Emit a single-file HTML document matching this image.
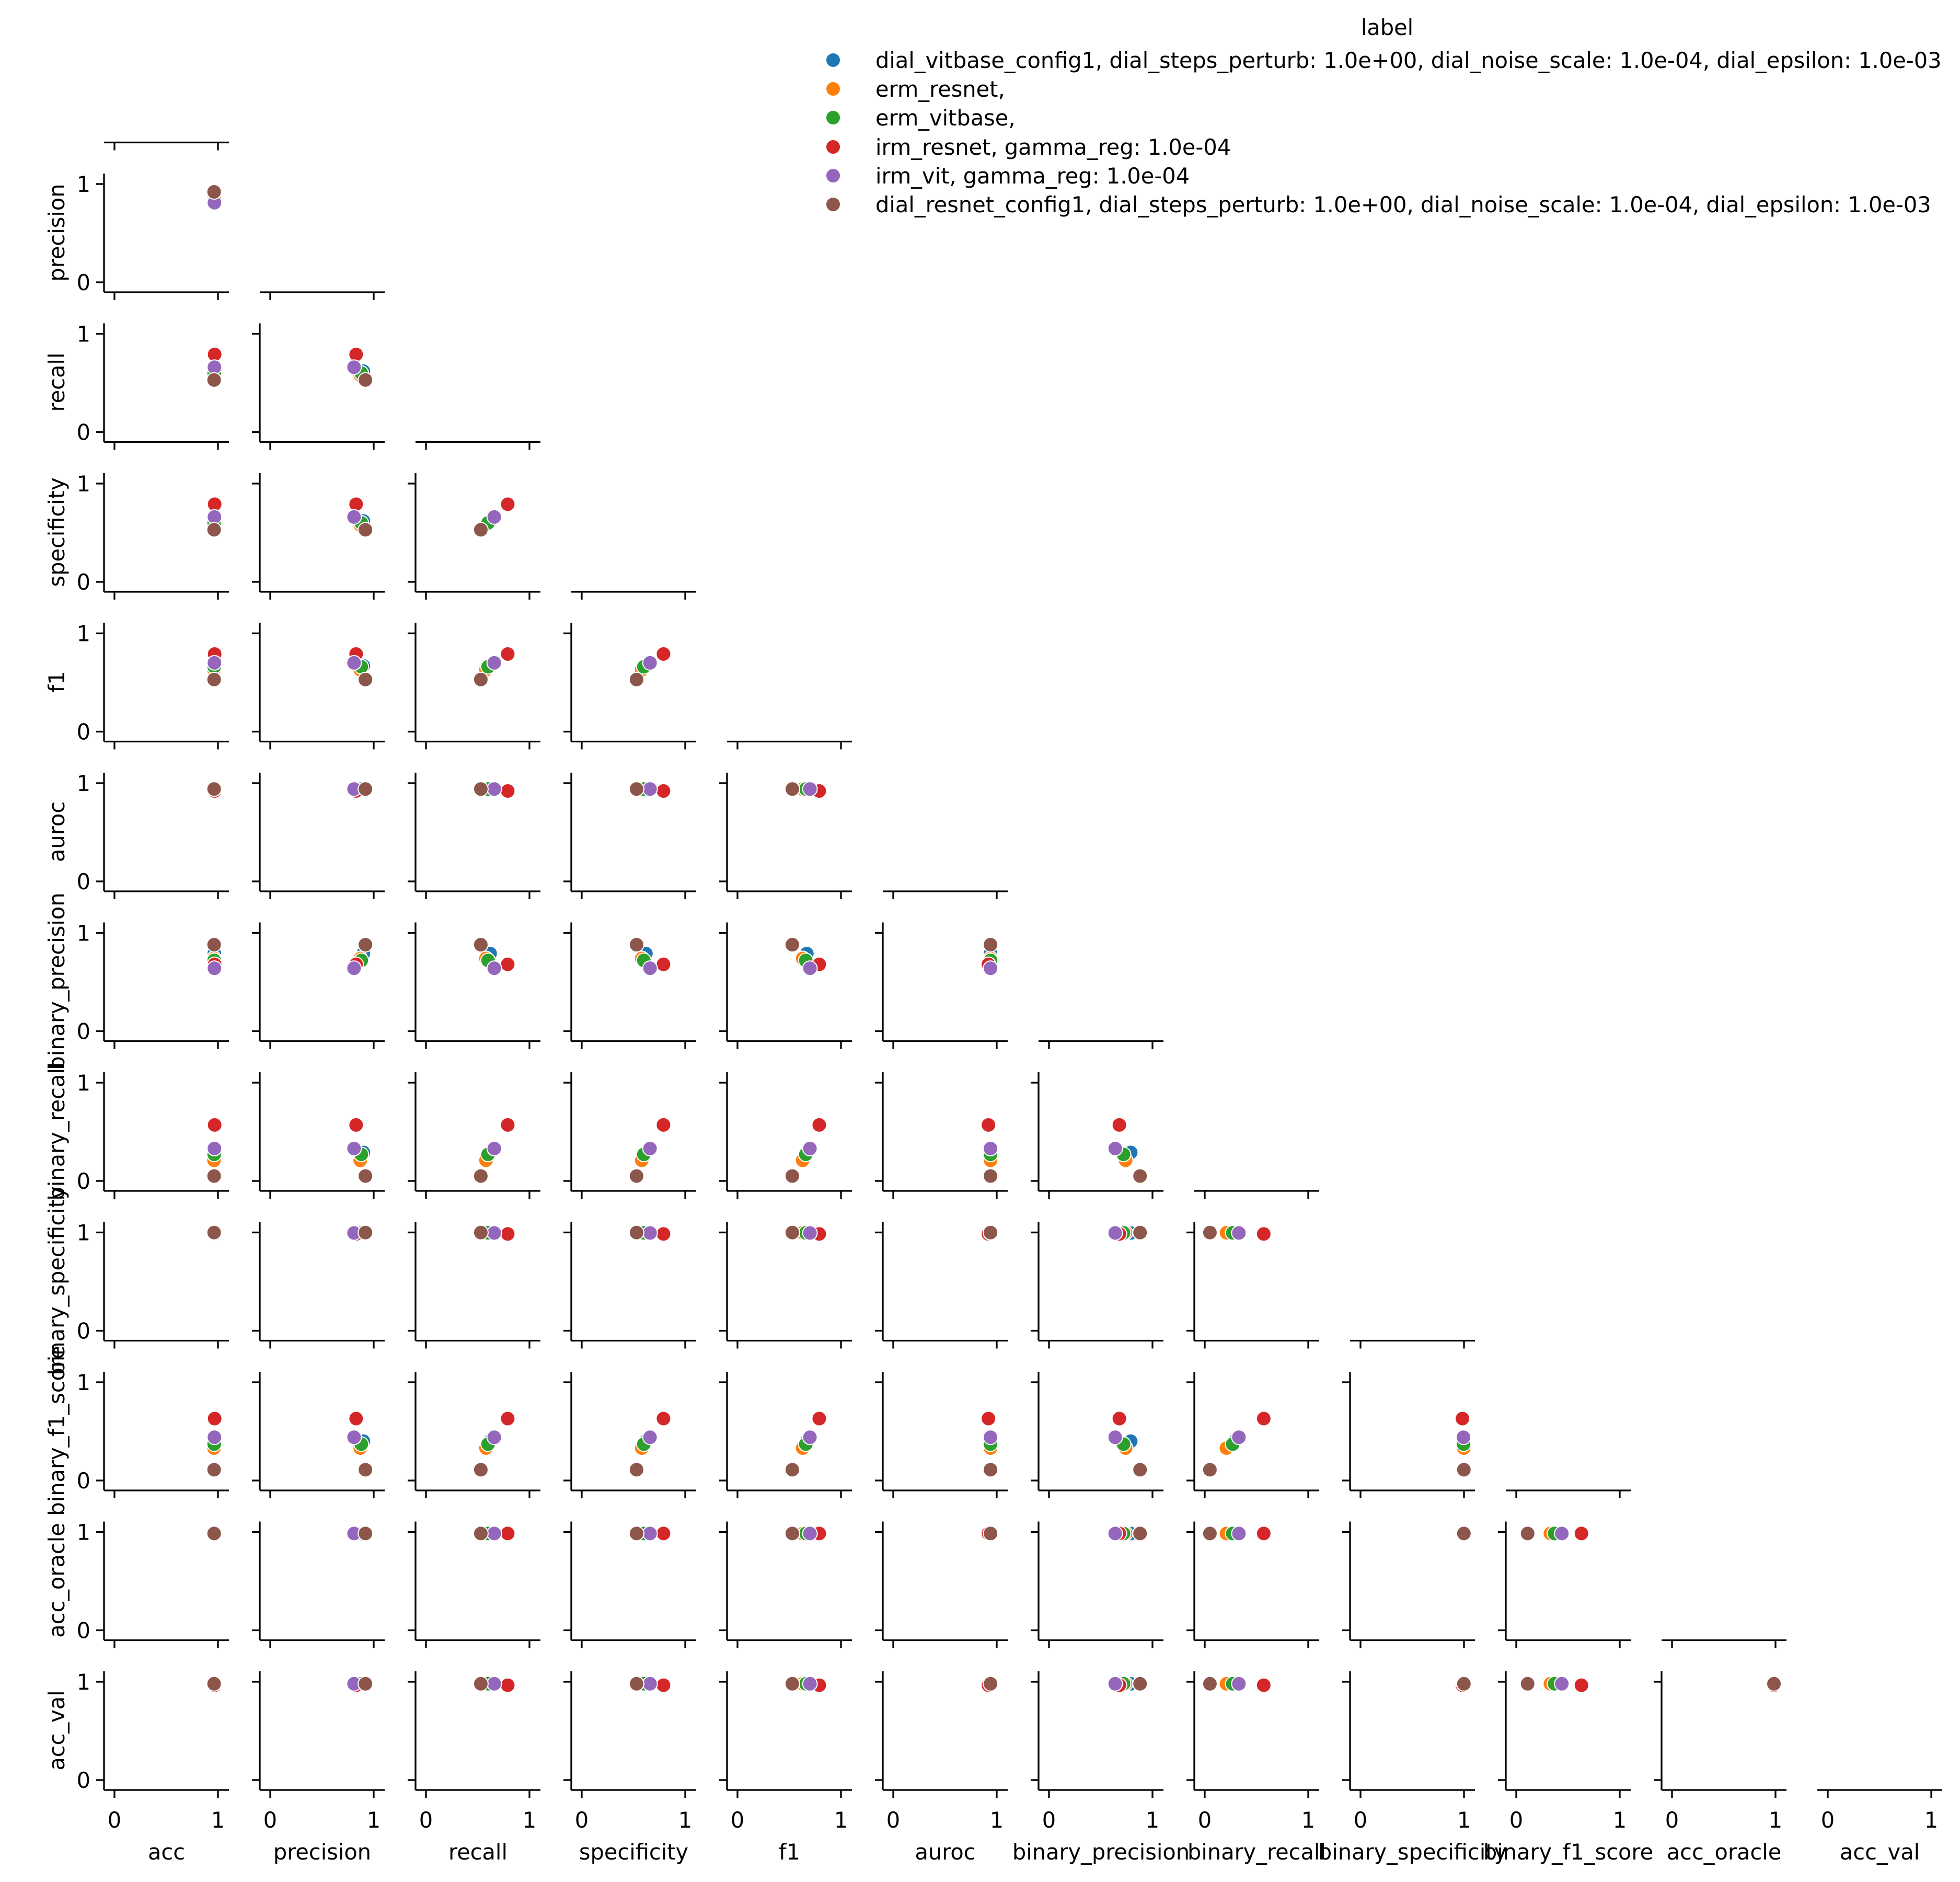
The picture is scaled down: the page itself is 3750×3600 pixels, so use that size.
<!DOCTYPE html>
<html><head><meta charset="utf-8"><style>
html,body{margin:0;padding:0;background:#fff}
svg{display:block}
text{font-family:"DejaVu Sans","Liberation Sans",sans-serif;font-size:41.5px;fill:#000}
</style></head><body>
<svg id="s" xmlns="http://www.w3.org/2000/svg" width="3750" height="3600" viewBox="0 0 3750 3600">
<rect width="3750" height="3600" fill="#fff"/>
<g id="g"></g>
<g text-anchor="middle">
<text transform="translate(123,445) rotate(-90)">precision</text>
<text transform="translate(123,731) rotate(-90)">recall</text>
<text transform="translate(123,1018) rotate(-90)">specificity</text>
<text transform="translate(123,1304) rotate(-90)">f1</text>
<text transform="translate(123,1591) rotate(-90)">auroc</text>
<text transform="translate(123,1877) rotate(-90)">binary_precision</text>
<text transform="translate(123,2164) rotate(-90)">binary_recall</text>
<text transform="translate(123,2450) rotate(-90)">binary_specificity</text>
<text transform="translate(123,2737) rotate(-90)">binary_f1_score</text>
<text transform="translate(123,3023) rotate(-90)">acc_oracle</text>
<text transform="translate(123,3310) rotate(-90)">acc_val</text>
</g>
<g text-anchor="middle">
<text x="318.5" y="3557">acc</text>
<text x="616.5" y="3557">precision</text>
<text x="914.5" y="3557">recall</text>
<text x="1212.5" y="3557">specificity</text>
<text x="1510.5" y="3557">f1</text>
<text x="1808.5" y="3557">auroc</text>
<text x="2106.5" y="3557">binary_precision</text>
<text x="2404.5" y="3557">binary_recall</text>
<text x="2702.5" y="3557">binary_specificity</text>
<text x="3000.5" y="3557">binary_f1_score</text>
<text x="3298.5" y="3557">acc_oracle</text>
<text x="3596.5" y="3557">acc_val</text>
</g>
<text x="2654" y="67" text-anchor="middle">label</text>
<g stroke="#fff" stroke-width="2">
<circle cx="1594" cy="115" r="14" fill="#1f77b4"/>
<circle cx="1594" cy="170" r="14" fill="#ff7f0e"/>
<circle cx="1594" cy="225" r="14" fill="#2ca02c"/>
<circle cx="1594" cy="281" r="14" fill="#d62728"/>
<circle cx="1594" cy="336" r="14" fill="#9467bd"/>
<circle cx="1594" cy="391" r="14" fill="#8c564b"/>
</g>
<text x="1675" y="130">dial_vitbase_config1, dial_steps_perturb: 1.0e+00, dial_noise_scale: 1.0e-04, dial_epsilon: 1.0e-03</text>
<text x="1675" y="185">erm_resnet,</text>
<text x="1675" y="240">erm_vitbase,</text>
<text x="1675" y="296">irm_resnet, gamma_reg: 1.0e-04</text>
<text x="1675" y="351">irm_vit, gamma_reg: 1.0e-04</text>
<text x="1675" y="406">dial_resnet_config1, dial_steps_perturb: 1.0e+00, dial_noise_scale: 1.0e-04, dial_epsilon: 1.0e-03</text>
</svg>
<script>
var NS="http://www.w3.org/2000/svg",g=document.getElementById("g");
function el(t,a){var e=document.createElementNS(NS,t);for(var k in a)e.setAttribute(k,a[k]);g.appendChild(e);return e;}
var cols=["#1f77b4","#ff7f0e","#2ca02c","#d62728","#9467bd","#8c564b"];
var D=[
[0.965,0.90,0.62,0.62,0.67,0.94,0.79,0.29,0.995,0.40,0.985,0.98],
[0.962,0.87,0.58,0.58,0.63,0.94,0.74,0.21,0.997,0.33,0.985,0.98],
[0.964,0.88,0.60,0.60,0.66,0.94,0.72,0.27,0.996,0.37,0.985,0.98],
[0.968,0.83,0.79,0.79,0.79,0.92,0.68,0.57,0.985,0.63,0.985,0.965],
[0.966,0.81,0.66,0.66,0.70,0.94,0.64,0.33,0.995,0.44,0.985,0.98],
[0.963,0.92,0.53,0.53,0.53,0.94,0.88,0.05,0.999,0.11,0.985,0.98]];
function L(c){return 199+298*c;} function T(r){return 45.5+286.5*r;}
for(var r=0;r<12;r++){for(var c=0;c<=r;c++){
 var x0=L(c),y0=T(r),yb=y0+227;
 el("line",{x1:x0,y1:yb,x2:x0+239,y2:yb,stroke:"#000","stroke-width":3.3});
 [0,1].forEach(function(v){var tx=x0+20+198*v;el("line",{x1:tx,y1:yb,x2:tx,y2:yb+15,stroke:"#000","stroke-width":3.3});
  if(r==11){var t=el("text",{x:tx,y:yb+72,"text-anchor":"middle"});t.textContent=String(v);}});
 if(c<r){
  el("line",{x1:x0,y1:y0,x2:x0,y2:yb,stroke:"#000","stroke-width":3.3});
  [0,1].forEach(function(v){var ty=y0+208-188*v;el("line",{x1:x0,y1:ty,x2:x0-15,y2:ty,stroke:"#000","stroke-width":3.3});
   if(c==0){var t=el("text",{x:x0-26,y:ty+15,"text-anchor":"end"});t.textContent=String(v);}});
  for(var m=0;m<6;m++){el("circle",{cx:x0+20+198*D[m][c],cy:y0+208-188*D[m][r],r:14,fill:cols[m],stroke:"#fff","stroke-width":2});}
 }
}}
</script>
</body></html>
